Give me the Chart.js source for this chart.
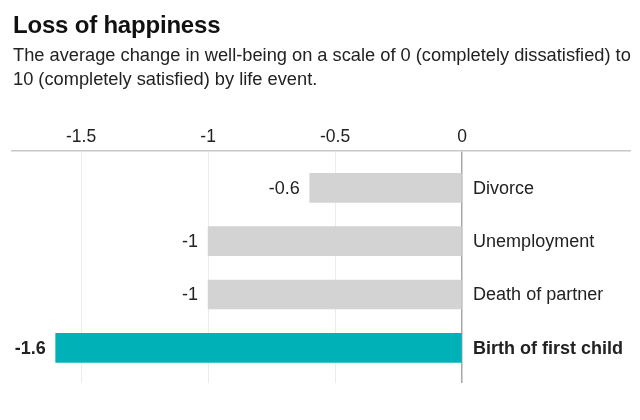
<!DOCTYPE html>
<html>
<head>
<meta charset="utf-8">
<script src="https://cdn.jsdelivr.net/npm/chart.js@4/dist/chart.umd.min.js"></script>
<style>
  html, body { margin: 0; padding: 0; background: #fff; }
  #wrap { position: relative; width: 640px; height: 420px; overflow: hidden; }
  #chart { position: absolute; left: 0; top: 0; }
  h1 { position: absolute; left: 13px; top: 11px; margin: 0; font: bold 24px "Liberation Sans", Arial, sans-serif; color: #111; letter-spacing: -0.2px; }
  p { position: absolute; left: 13px; top: 43px; margin: 0; width: 627px; white-space: nowrap; font: 18.25px/24px "Liberation Sans", Arial, sans-serif; color: #222; }
</style>
</head>
<body>
<div id="wrap">
  <canvas id="chart" width="640" height="420"></canvas>
  <h1>Loss of happiness</h1>
  <p>The average change in well-being on a scale of 0 (completely dissatisfied) to<br>10 (completely satisfied) by life event.</p>
</div>
<script>
const events = ["Divorce", "Unemployment", "Death of partner", "Birth of first child"];
const changes = [-0.6, -1, -1, -1.6];
const tickValues = [-1.5, -1, -0.5, 0];
const barColors = ["#d3d3d3", "#d3d3d3", "#d3d3d3", "#00b2b8"];
const highlight = [false, false, false, true];

const FONT = '"Liberation Sans", Arial, sans-serif';

// Beschriftungen an den Balken
const barLabels = {
  id: "barLabels",
  afterDatasetsDraw(chart) {
    const c = chart.ctx;
    const xs = chart.scales.x;
    const meta = chart.getDatasetMeta(0);
    c.save();
    c.fillStyle = "#222";
    c.textBaseline = "middle";
    meta.data.forEach((bar, i) => {
      c.font = (highlight[i] ? "bold " : "") + "18px " + FONT;
      c.textAlign = "right";
      c.fillText(String(changes[i]), bar.x - 10, bar.y + 1);
      c.textAlign = "left";
      c.fillText(events[i], xs.getPixelForValue(0) + 11, bar.y + 1);
    });
    c.restore();
  },
};

const data = changes.map((v, i) => ({ x: v, y: i }));

new Chart(document.getElementById("chart"), {
  type: "bar",
  data: {
    datasets: [
      {
        data: data,
        backgroundColor: barColors,
        barThickness: 29,
        borderWidth: 0,
      },
    ],
  },
  options: {
    indexAxis: "y",
    responsive: false,
    animation: false,
    layout: { padding: { left: 12, right: 10, top: 124, bottom: 37 } },
    plugins: { legend: { display: false }, tooltip: { enabled: false } },
    scales: {
      x: {
        type: "linear",
        position: "top",
        min: -1.772,
        max: 0.661,
        afterBuildTicks: (scale) => {
          scale.ticks = tickValues.map((v) => ({ value: v }));
        },
        ticks: {
          padding: 3,
          color: "#222",
          font: { family: FONT, size: 17.5 },
          maxRotation: 0,
          callback: (v) => String(v),
        },
        grid: {
          drawTicks: false,
          color: (ctx) => (ctx.tick && ctx.tick.value === 0 ? "#a8a8a8" : "#ececec"),
          lineWidth: (ctx) => (ctx.tick && ctx.tick.value === 0 ? 1.5 : 1),
        },
        border: { display: true, color: "#c8c8c8", width: 1.5 },
      },
      y: {
        type: "linear",
        display: false,
        reverse: true,
        offset: false,
        min: -0.69,
        max: 3.66,
      },
    },
  },
  plugins: [barLabels],
});
</script>
</body>
</html>
